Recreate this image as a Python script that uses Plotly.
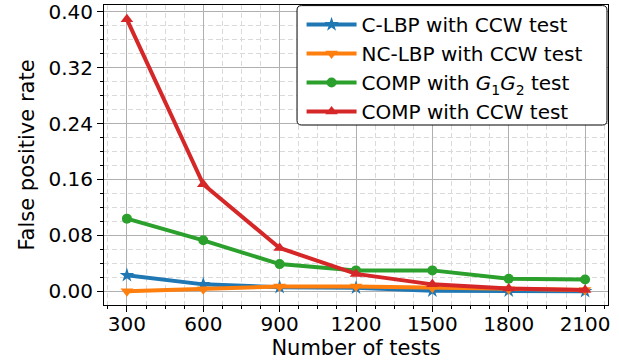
import plotly.graph_objects as go

# Number of tests on the x axis
tests = [300, 600, 900, 1200, 1500, 1800, 2100]

# False positive rate for each method
clbp_ccw = [0.023, 0.010, 0.006, 0.005, 0.001, 0.001, 0.000]
nclbp_ccw = [0.000, 0.003, 0.007, 0.007, 0.005, 0.003, 0.002]
comp_g1g2 = [0.104, 0.073, 0.039, 0.030, 0.030, 0.018, 0.017]
comp_ccw = [0.389, 0.153, 0.062, 0.025, 0.010, 0.004, 0.002]

y_ticks = [0.00, 0.08, 0.16, 0.24, 0.32, 0.40]

series = [
    ("C-LBP with CCW test", clbp_ccw, "#1f77b4", "star", 11),
    ("NC-LBP with CCW test", nclbp_ccw, "#ff7f0e", "triangle-down", 11),
    ("COMP with <i>G</i><sub>1</sub><i>G</i><sub>2</sub> test", comp_g1g2, "#2ca02c", "circle", 10),
    ("COMP with CCW test", comp_ccw, "#d62728", "triangle-up", 11),
]

fig = go.Figure()
for i, (name, vals, color, symbol, size) in enumerate(series):
    fig.add_trace(go.Scatter(
        x=tests, y=vals, name=name, mode="lines+markers",
        legendgroup=f"g{i}",
        line=dict(color=color, width=4),
        marker=dict(symbol=symbol, size=size, color=color, line=dict(width=0)),
    ))

font = dict(family="DejaVu Sans", color="black")

axis_common = dict(
    showline=True, linecolor="black", linewidth=1, mirror=True,
    ticks="outside", ticklen=6, tickwidth=1, tickcolor="black",
    showgrid=True, gridcolor="#b0b0b0", gridwidth=1,
    zeroline=False, automargin=False, ticklabeloverflow="allow",
    tickfont=dict(size=20, **font),
)

minor_common = dict(ticks="outside", ticklen=3, tickcolor="black",
                    showgrid=True, gridcolor="#dadada", griddash="5px,3px", gridwidth=1)

fig.update_xaxes(
    range=[210, 2190], tickvals=tests, ticklabelstandoff=-5,
    title=dict(text="Number of tests", font=dict(size=21, **font), standoff=0),
    minor=dict(dtick=75, tick0=0, **minor_common),
    **axis_common,
)
fig.update_yaxes(
    range=[-0.0195, 0.4095], tickvals=y_ticks, tickformat=".2f",
    title=dict(text="False positive rate", font=dict(size=21, **font), standoff=8),
    minor=dict(dtick=0.02, tick0=0, **minor_common),
    **axis_common,
)

# Rounded legend frame drawn as a shape over the grid
x0, x1, y0, y1 = 0.383, 0.998, 0.60, 0.998
rx, ry = 0.009, 0.015
frame = (
    f"M{x0 + rx},{y1} L{x1 - rx},{y1} Q{x1},{y1} {x1},{y1 - ry} "
    f"L{x1},{y0 + ry} Q{x1},{y0} {x1 - rx},{y0} "
    f"L{x0 + rx},{y0} Q{x0},{y0} {x0},{y0 + ry} "
    f"L{x0},{y1 - ry} Q{x0},{y1} {x0 + rx},{y1} Z"
)
fig.add_shape(type="path", path=frame, xref="paper", yref="paper",
              fillcolor="white", line=dict(color="black", width=1), layer="above")

fig.update_layout(
    width=619, height=362,
    margin=dict(l=104, r=11, t=5, b=57),
    plot_bgcolor="white", paper_bgcolor="white",
    font=font,
    legend=dict(
        x=0.392, y=1.0, xanchor="left", yanchor="top",
        bgcolor="rgba(0,0,0,0)", borderwidth=0,
        font=dict(size=20, **font),
        tracegroupgap=0, itemwidth=50,
    ),
)

fig.write_html("out.html")
